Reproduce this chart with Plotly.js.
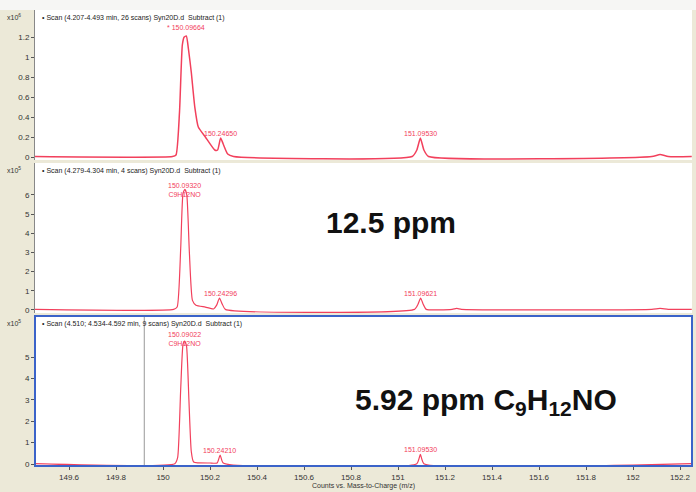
<!DOCTYPE html>
<html><head><meta charset="utf-8">
<script src="https://cdn.plot.ly/plotly-3.0.1.min.js"></script>
<style>html,body{margin:0;padding:0;background:#ece9d8;}#c{width:696px;height:492px;}</style>
</head><body><div id="c"></div>
<script>
// Panel 1 (x10^6 counts)
const mzA  = [149.455,150.04,150.055,150.07,150.082,150.090,150.099,150.108,150.12,150.135,150.15,150.18,150.22,150.232,150.245,150.256,150.275,150.30,151.06,151.08,151.095,151.11,151.13,152.08,152.115,152.15,152.25];
const intA = [0.005,0.005,0.02,0.45,1.12,1.2,1.21,1.08,0.85,0.5,0.3,0.2,0.07,0.07,0.19,0.13,0.03,0.005,0.005,0.07,0.19,0.07,0.005,0.005,0.025,0.005,0.005];
// Panel 2 (x10^5 counts)
const mzB  = [149.455,150.045,150.06,150.075,150.085,150.093,150.101,150.112,150.125,150.14,150.18,150.215,150.228,150.24,150.252,150.265,151.07,151.085,151.096,151.107,151.12,151.23,151.25,151.27,152.08,152.115,152.15,152.25];
const intB = [0.03,0.03,0.15,3.2,6.1,6.3,6.0,3.0,0.5,0.25,0.15,0.05,0.25,0.62,0.3,0.03,0.03,0.3,0.62,0.3,0.03,0.03,0.08,0.03,0.03,0.08,0.03,0.03];
// Panel 3 (x10^5 counts)
const mzC  = [149.455,150.05,150.062,150.075,150.085,150.092,150.10,150.11,150.12,150.13,150.2,150.23,150.243,150.256,151.08,151.095,151.11,152.25];
const intC = [0.02,0.02,0.3,3.5,5.6,5.75,5.5,3.0,0.6,0.1,0.05,0.05,0.42,0.05,0.02,0.45,0.02,0.02];

const scanTitles = [
  "• Scan (4.207-4.493 min, 26 scans) Syn20D.d  Subtract (1)",
  "• Scan (4.279-4.304 min, 4 scans) Syn20D.d  Subtract (1)",
  "• Scan (4.510; 4.534-4.592 min, 9 scans) Syn20D.d  Subtract (1)"
];
const exponents = ["x10<sup>6</sup>","x10<sup>5</sup>","x10<sup>5</sup>"];
const ticksA = [0,0.2,0.4,0.6,0.8,1,1.2];
const ticksB = [0,1,2,3,4,5,6];
const ticksC = [0,1,2,3,4,5];
const xTicks = [149.6,149.8,150,150.2,150.4,150.6,150.8,151,151.2,151.4,151.6,151.8,152,152.2];
// label anchor y = top of text block (in panel units)
const peakLabelsA = [{x:150.0966,y:1.25,t:"* 150.09664",a:'bottom'},{x:150.2465,y:0.19,t:"150.24650",a:'bottom'},{x:151.0953,y:0.19,t:"151.09530",a:'bottom'}];
const peakLabelsB = [{x:150.0932,y:6.75,t:"150.09320<br>C9H12NO",a:'top'},{x:150.2430,y:0.62,t:"150.24296",a:'bottom'},{x:151.0962,y:0.62,t:"151.09621",a:'bottom'}];
const peakLabelsC = [{x:150.0902,y:6.25,t:"150.09022<br>C9H12NO",a:'top'},{x:150.2421,y:0.42,t:"150.24210",a:'bottom'},{x:151.0953,y:0.45,t:"151.09530",a:'bottom'}];
const markerX = 149.92;

const red = '#f2405c';
const tfont = {family:'Liberation Sans, Arial, sans-serif', size:8, color:'#333'};
const traces = [
  {x:mzA,y:intA,xaxis:'x',yaxis:'y',mode:'lines',line:{color:red,width:1.5,shape:'spline',smoothing:0.5},hoverinfo:'none'},
  {x:mzB,y:intB,xaxis:'x',yaxis:'y2',mode:'lines',line:{color:red,width:1.2,shape:'spline',smoothing:0.5},hoverinfo:'none'},
  {x:mzC,y:intC,xaxis:'x',yaxis:'y3',mode:'lines',line:{color:red,width:1.2,shape:'spline',smoothing:0.5},hoverinfo:'none'}
];
const yax = (dom, rng, tv) => ({domain:dom, range:rng, tickvals:tv, anchor:'x', showgrid:false, zeroline:false,
  showline:true, linecolor:'#888', linewidth:1, ticks:'outside', ticklen:3, tickcolor:'#555', tickfont:tfont, fixedrange:true});
const doms = [[0.671,1],[0.3355,0.6645],[0,0.329]];
const annotations = [];
const yrefs = ['y','y2','y3'];
const lblSets = [peakLabelsA, peakLabelsB, peakLabelsC];
for (let i=0;i<3;i++){
  annotations.push({xref:'paper',yref:'paper',x:0.008,y:doms[i][1]-0.004,xanchor:'left',yanchor:'top',showarrow:false,
    text:scanTitles[i],font:{family:'Liberation Sans, Arial',size:7,color:'#222'}});
  annotations.push({xref:'paper',yref:'paper',x:-0.032,y:doms[i][1]-0.002,xanchor:'center',yanchor:'top',showarrow:false,
    text:exponents[i],font:{family:'Liberation Sans, Arial',size:7,color:'#333'}});
  lblSets[i].forEach(p=>annotations.push({xref:'x',yref:yrefs[i],x:p.x,y:p.y,xanchor:'center',yanchor:p.a,showarrow:false,
    text:p.t,font:{family:'Liberation Sans, Arial',size:7,color:red},borderpad:0}));
}
annotations.push({xref:'paper',yref:'paper',x:0.542,y:0.535,xanchor:'center',yanchor:'middle',showarrow:false,text:'12.5 ppm',
  font:{family:'Liberation Sans, Arial',size:30,color:'#111',weight:'bold'}});
annotations.push({xref:'paper',yref:'paper',x:0.686,y:0.142,xanchor:'center',yanchor:'middle',showarrow:false,text:'5.92 ppm C<sub>9</sub>H<sub>12</sub>NO',
  font:{family:'Liberation Sans, Arial',size:30,color:'#111',weight:'bold'}});

const layout = {
  width:696,height:492,margin:{l:35,r:4,t:10,b:26},
  paper_bgcolor:'#ece9d8',plot_bgcolor:'#ffffff',showlegend:false,
  xaxis:{range:[149.455,152.251],anchor:'y3',tickvals:xTicks,ticktext:xTicks.map(String),showgrid:false,zeroline:false,
    showline:false,ticks:'outside',ticklen:3,tickcolor:'#555',tickfont:tfont,fixedrange:true,ticklabeloverflow:'allow',
    title:{text:'Counts vs. Mass-to-Charge (m/z)',font:{family:'Liberation Sans, Arial',size:7,color:'#333'},standoff:2}},
  yaxis:yax(doms[0],[-0.03,1.47],ticksA),
  yaxis2:yax(doms[1],[-0.16,7.67],ticksB),
  yaxis3:yax(doms[2],[-0.09,6.92],ticksC),
  annotations:annotations,
  shapes:[
    {type:'rect',xref:'paper',yref:'paper',x0:-0.06,x1:1.01,y0:1.0,y1:1.03,fillcolor:'#f6f6f4',line:{width:0},layer:'below'},
    {type:'line',xref:'x',yref:'y3',x0:markerX,x1:markerX,y0:-0.09,y1:6.92,line:{color:'#999',width:1}},
    {type:'rect',xref:'paper',yref:'paper',x0:0,x1:1,y0:0,y1:0.329,line:{color:'#3b63c9',width:2}}
  ]
};
Plotly.newPlot('c',traces,layout,{displayModeBar:false,staticPlot:true});
</script></body></html>
